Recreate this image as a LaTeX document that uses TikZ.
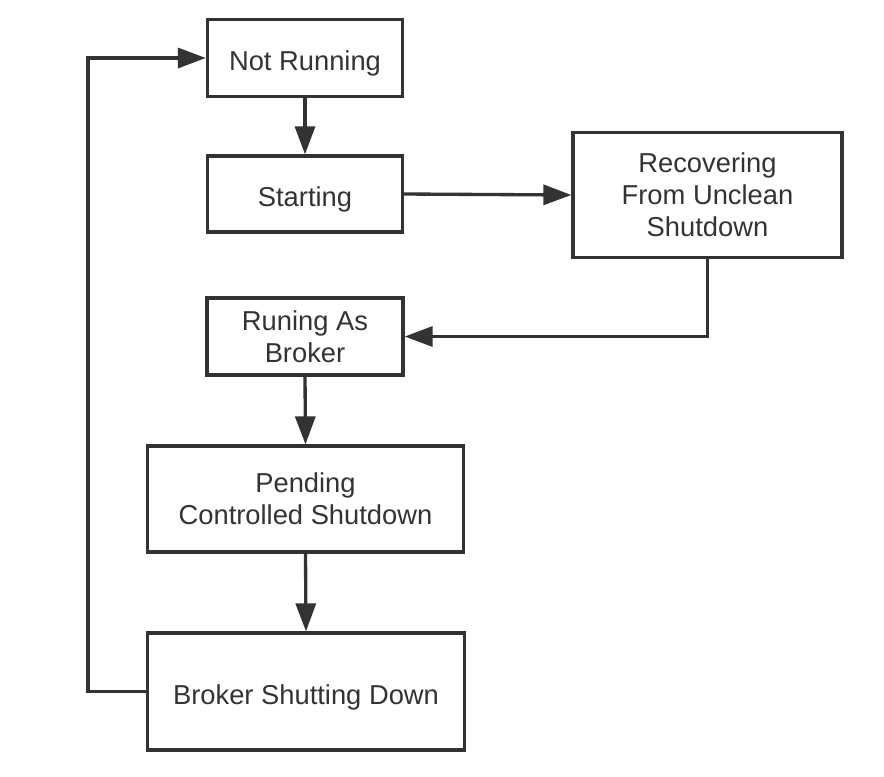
\documentclass[tikz,border=0pt]{standalone}
\usepackage{fontspec}
\setmainfont{Liberation Sans}
\usetikzlibrary{arrows.meta}
\definecolor{ink}{HTML}{333333}
\begin{document}
\begin{tikzpicture}[x=0.75pt,y=-0.75pt,
  statebox/.style={draw=ink,line width=2.5pt,rectangle,align=center,text=ink,
    font=\fontsize{20.5pt}{24pt}\selectfont,inner sep=0pt,
    execute at begin node={\rule{0pt}{23pt}}},
  flow/.style={draw=ink,line width=2.5pt,-{Triangle[length=21pt,width=15pt]}}]
\useasboundingbox (0,0) rectangle (884,776);
\fill[white] (0,0) rectangle (884,776);
\node[statebox,minimum width=195*0.75pt,minimum height=77*0.75pt] (nr) at (305,58) {Not Running};
\node[statebox,minimum width=195*0.75pt,minimum height=76*0.75pt] (st) at (305,194) {Starting};
\node[statebox,minimum width=269*0.75pt,minimum height=125*0.75pt] (rec) at (707.5,195) {Recovering\\From Unclean\\Shutdown};
\node[statebox,minimum width=196*0.75pt,minimum height=77*0.75pt] (rab) at (305,336.5) {Runing As\\Broker};
\node[statebox,minimum width=316*0.75pt,minimum height=106*0.75pt] (pcs) at (305.5,499) {Pending\\Controlled Shutdown};
\node[statebox,minimum width=317*0.75pt,minimum height=117*0.75pt] (bsd) at (306,691.5) {Broker Shutting Down};
\coordinate (lp) at (88,58);
\draw[flow] (nr.south) -- (st.north);
\draw[flow] (st.east) -- (rec.west);
\draw[flow] (rec.south) |- (rab.east);
\draw[flow] (rab.south) -- (pcs.north);
\draw[flow] (pcs.south) -- (bsd.north);
\draw[flow] (bsd.west) -| (lp) -- (nr.west);
\end{tikzpicture}
\end{document}
